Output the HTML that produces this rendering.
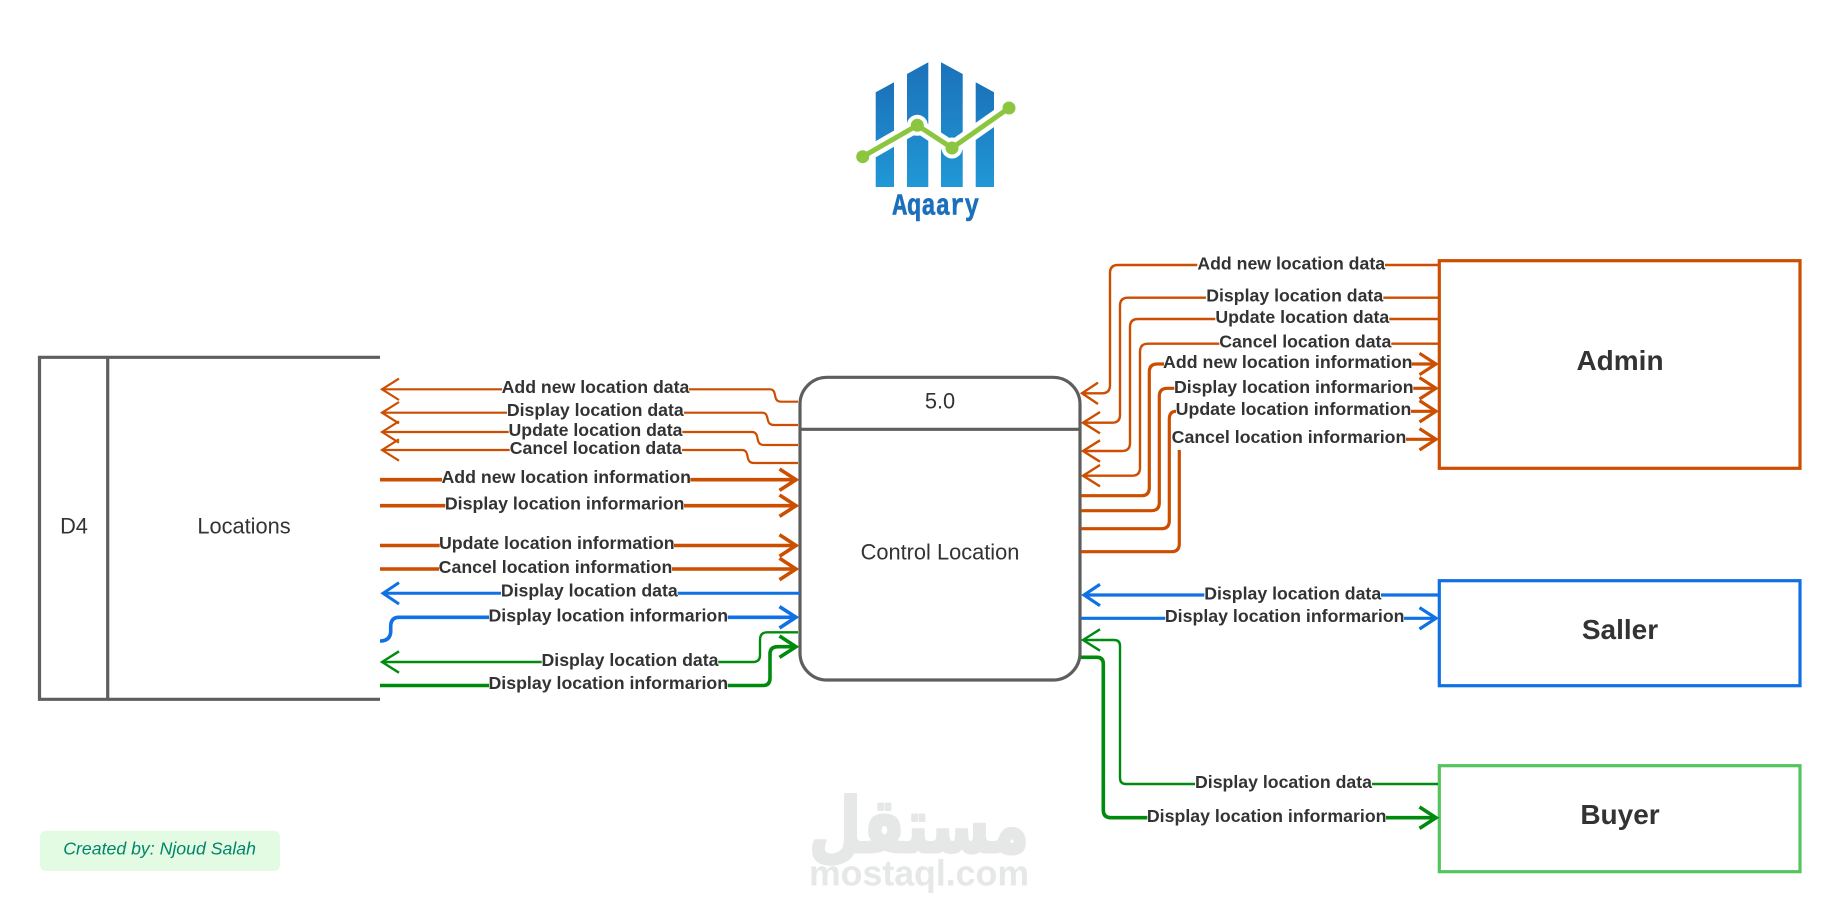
<!DOCTYPE html>
<html>
<head>
<meta charset="utf-8">
<style>
html,body{margin:0;padding:0;background:#fff;width:1840px;height:912px;overflow:hidden}
svg{display:block;position:absolute;left:0;top:0}
text{font-family:"Liberation Sans",sans-serif;fill:#333}
.d{font-weight:bold;font-size:17.7px;text-anchor:middle}
.i{font-weight:bold;font-size:17.75px;text-anchor:middle}
.e{font-weight:bold;font-size:28px;text-anchor:middle}
.n{font-size:21.8px;text-anchor:middle}
.o{stroke:#CC4E00;fill:none}
.b{stroke:#1071E5;fill:none}
.g{stroke:#008A0E;fill:none}
.t{stroke-width:2}
.k{stroke-width:3.6}
</style>
</head>
<body>
<svg width="1840" height="912" viewBox="0 0 1840 912" xmlns="http://www.w3.org/2000/svg">
<defs>
<linearGradient id="bg" x1="0" y1="0" x2="0" y2="1">
<stop offset="0" stop-color="#1b72ba"/>
<stop offset="1" stop-color="#2198d5"/>
</linearGradient>
</defs>

<!-- logo -->
<g fill="url(#bg)">
<polygon points="875.7,92.3 894,82.3 894,187 875.7,187"/>
<polygon points="907,74 928.3,62.3 928.3,187 907,187"/>
<polygon points="941,62.3 962.7,74 962.7,187 941,187"/>
<polygon points="975.7,82.3 994,92.3 994,187 975.7,187"/>
</g>
<polyline points="862.7,156.7 917.3,125.3 952,148 1009,108" fill="none" stroke="#fff" stroke-width="14"/>
<circle cx="917.3" cy="125.3" r="10.5" fill="#fff"/>
<circle cx="952" cy="148" r="10.5" fill="#fff"/>
<polyline points="862.7,156.7 917.3,125.3 952,148 1009,108" fill="none" stroke="#8cc540" stroke-width="5"/>
<g fill="#8cc540">
<circle cx="862.7" cy="156.7" r="6.5"/>
<circle cx="917.3" cy="125.3" r="6.5"/>
<circle cx="952" cy="148" r="6.5"/>
<circle cx="1009" cy="108" r="6.5"/>
</g>
<text x="892.5" y="214.5" font-size="31" font-weight="bold" textLength="86.5" lengthAdjust="spacingAndGlyphs" stroke="#1b6fbb" stroke-width="0.6" style="font-family:'Liberation Mono',monospace;fill:#1b6fbb">Aqaary</text>

<!-- watermark -->
<text x="919" y="852" font-size="76" font-weight="bold" text-anchor="middle" textLength="220" lengthAdjust="spacingAndGlyphs" stroke="#e6e7e7" stroke-width="3" stroke-linejoin="round" style="font-family:'DejaVu Sans',sans-serif;fill:#e6e7e7">مستقل</text>
<text x="919" y="885.7" font-size="35.7" font-weight="bold" text-anchor="middle" style="fill:#e6e7e7">mostaql.com</text>

<!-- badge -->
<rect x="40" y="830.7" width="240" height="40.3" rx="6" fill="#e3fae3"/>
<text x="159.6" y="854.5" font-size="17.7" font-style="italic" text-anchor="middle" style="fill:#00856a">Created by: Njoud Salah</text>

<!-- data store -->
<path d="M380 357.3H39.5V699.3H380M107.7 357.3V699.3" fill="none" stroke="#5e5e5e" stroke-width="3.2"/>
<text class="n" x="74" y="533.5">D4</text>
<text class="n" x="244" y="533.5">Locations</text>

<!-- process -->
<rect x="800" y="377.3" width="280" height="302.7" rx="27" fill="#fff" stroke="#5e5e5e" stroke-width="3.2"/>
<path d="M800 429.3H1080" fill="none" stroke="#5e5e5e" stroke-width="3.2"/>
<text class="n" x="940" y="408.5">5.0</text>
<text class="n" x="940" y="559.5">Control Location</text>

<!-- entities -->
<rect x="1439.3" y="260.7" width="360.7" height="207.6" fill="#fff" stroke="#CC4E00" stroke-width="3.2"/>
<rect x="1439.3" y="580.7" width="360.7" height="105" fill="#fff" stroke="#1071E5" stroke-width="3.2"/>
<rect x="1439.3" y="765.7" width="360.7" height="106" fill="#fff" stroke="#54C45E" stroke-width="3.2"/>
<text class="e" x="1620" y="370">Admin</text>
<text class="e" x="1620" y="639">Saller</text>
<text class="e" x="1620" y="824">Buyer</text>

<!-- left side connectors: orange thin -->
<g class="o" stroke-width="2.2">
<path d="M382 389.3H502M689 389.3H770Q773.5 389.3 774.5 393L775.5 397.5Q776.5 401.7 781 401.7H798"/>
<path d="M399 378.6L382 389.3L399 400"/>
<path d="M382 412.7H507M684 412.7H762Q766 412.7 767 416.5L768 420.5Q769 425 774 425H798"/>
<path d="M399 402L382 412.7L399 423.4"/>
<path d="M382 432H508.7M682.3 432H752Q756 432 757 436L758 440.5Q759 445 764 445H798"/>
<path d="M399 421.3L382 432L399 442.7"/>
<path d="M382 450H509.7M682 450H742Q746 450 747 454L748 458.5Q749 463 754 463H798"/>
<path d="M399 439.3L382 450L399 460.7"/>
</g>
<!-- left side connectors: orange thick -->
<g class="o k">
<path d="M380 479.7H442M690.3 479.7H796"/>
<path d="M779.5 469L796 479.7L779.5 490.4"/>
<path d="M380 505.7H445.3M684 505.7H796"/>
<path d="M779.5 495L796 505.7L779.5 516.4"/>
<path d="M380 545.5H439.7M674 545.5H796"/>
<path d="M779.5 534.8L796 545.5L779.5 556.2"/>
<path d="M380 569H439M672 569H796"/>
<path d="M779.5 558.3L796 569L779.5 579.7"/>
</g>
<!-- left side blue -->
<g class="b k">
<path d="M383 593.3H501M677.7 593.3H800" stroke-width="3"/>
<path d="M399 582.6L383 593.3L399 604" stroke-width="3"/>
<path d="M380 641Q390 641 390.7 632V626Q391 617.3 399 617.3H489M727.7 617.3H796"/>
<path d="M779.5 606.6L796 617.3L779.5 628"/>
</g>
<!-- left side green -->
<g class="g">
<path d="M382 662H541.7M718.3 662H753Q760 662 760 655V640Q760 632.3 767 632.3H798" stroke-width="2.4"/>
<path d="M399 651.3L382 662L399 672.7" stroke-width="2.4"/>
</g>
<g class="g k">
<path d="M380 685.5H489M727.7 685.5H763Q770 685.5 770 678V654Q770 646.7 778 646.7H796"/>
<path d="M779.5 636L796 646.7L779.5 657.4"/>
</g>

<!-- right side connectors: orange thin -->
<g class="o" stroke-width="2.4">
<path d="M1438 265H1385M1197.3 265H1118Q1110 265 1110 273V385Q1110 393.3 1102 393.3H1082"/>
<path d="M1098 382.6L1082 393.3L1098 404"/>
<path d="M1438 297.7H1383.3M1206 297.7H1128Q1120 297.7 1120 305.7V414.7Q1120 422.7 1112 422.7H1083"/>
<path d="M1100 412L1083 422.7L1100 433.4"/>
<path d="M1438 319H1389.3M1215.3 319H1138Q1130 319 1130 327V443Q1130 451 1122 451H1083"/>
<path d="M1100 440.3L1083 451L1100 461.7"/>
<path d="M1438 343.7H1391.3M1219.3 343.7H1148Q1140 343.7 1140 351.7V467.7Q1140 475.7 1132 475.7H1083"/>
<path d="M1100 465L1083 475.7L1100 486.4"/>
</g>
<!-- right side connectors: orange thick -->
<g class="o" stroke-width="3.2">
<path d="M1081 495.7H1141.3Q1149.3 495.7 1149.3 487.7V372Q1149.3 364 1157.3 364H1164M1411.7 364H1436"/>
<path d="M1419.5 353.3L1436 364L1419.5 374.7"/>
<path d="M1081 510.7H1151.3Q1159.3 510.7 1159.3 502.7V396.3Q1159.3 388.3 1167.3 388.3H1174.3M1413.3 388.3H1436"/>
<path d="M1419.5 377.6L1436 388.3L1419.5 399"/>
<path d="M1081 528.7H1161.3Q1169.3 528.7 1169.3 520.7V419.3Q1169.3 411.3 1176 411.3M1411 411.3H1436"/>
<path d="M1419.5 400.6L1436 411.3L1419.5 422"/>
<path d="M1081 551.7H1171.3Q1179.3 551.7 1179.3 543.7V450M1406 439.3H1436"/>
<path d="M1419.5 428.6L1436 439.3L1419.5 450"/>
</g>
<!-- right side blue -->
<g class="b" stroke-width="3.2">
<path d="M1438 595H1381M1204.3 595H1084"/>
<path d="M1100 584.3L1084 595L1100 605.7"/>
<path d="M1081 618.3H1165.3M1404 618.3H1436"/>
<path d="M1419.5 607.6L1436 618.3L1419.5 629"/>
</g>
<!-- right side green -->
<g class="g" stroke-width="2.4">
<path d="M1438 784H1372M1195 784H1126Q1120 784 1120 778V646Q1120 640 1114 640H1083"/>
<path d="M1100 629.3L1083 640L1100 650.7"/>
</g>
<g class="g k">
<path d="M1081 657.3H1097Q1103.3 657.3 1103.3 664V810Q1103.3 817.7 1111 817.7H1147.3M1386 817.7H1436"/>
<path d="M1419.5 807L1436 817.7L1419.5 828.4"/>
</g>

<!-- left labels -->
<text class="d" x="595.5" y="393">Add new location data</text>
<text class="d" x="595.3" y="416">Display location data</text>
<text class="d" x="595.5" y="436">Update location data</text>
<text class="d" x="595.8" y="454">Cancel location data</text>
<text class="i" x="566.2" y="483">Add new location information</text>
<text class="i" x="564.7" y="509.5">Display location informarion</text>
<text class="i" x="556.8" y="549">Update location information</text>
<text class="i" x="555.5" y="573">Cancel location information</text>
<text class="d" x="589.3" y="596.5">Display location data</text>
<text class="i" x="608.3" y="621.5">Display location informarion</text>
<text class="d" x="630" y="666">Display location data</text>
<text class="i" x="608.3" y="689">Display location informarion</text>

<!-- right labels -->
<text class="d" x="1291.2" y="269.5">Add new location data</text>
<text class="d" x="1294.7" y="301.5">Display location data</text>
<text class="d" x="1302.3" y="323">Update location data</text>
<text class="d" x="1305.3" y="347.5">Cancel location data</text>
<text class="i" x="1287.8" y="368">Add new location information</text>
<text class="i" x="1293.8" y="393">Display location informarion</text>
<text class="i" x="1293.5" y="415">Update location information</text>
<text class="i" x="1289" y="443">Cancel location informarion</text>
<text class="d" x="1292.7" y="599.5">Display location data</text>
<text class="i" x="1284.7" y="622">Display location informarion</text>
<text class="d" x="1283.5" y="788">Display location data</text>
<text class="i" x="1266.7" y="822">Display location informarion</text>
</svg>
</body>
</html>
